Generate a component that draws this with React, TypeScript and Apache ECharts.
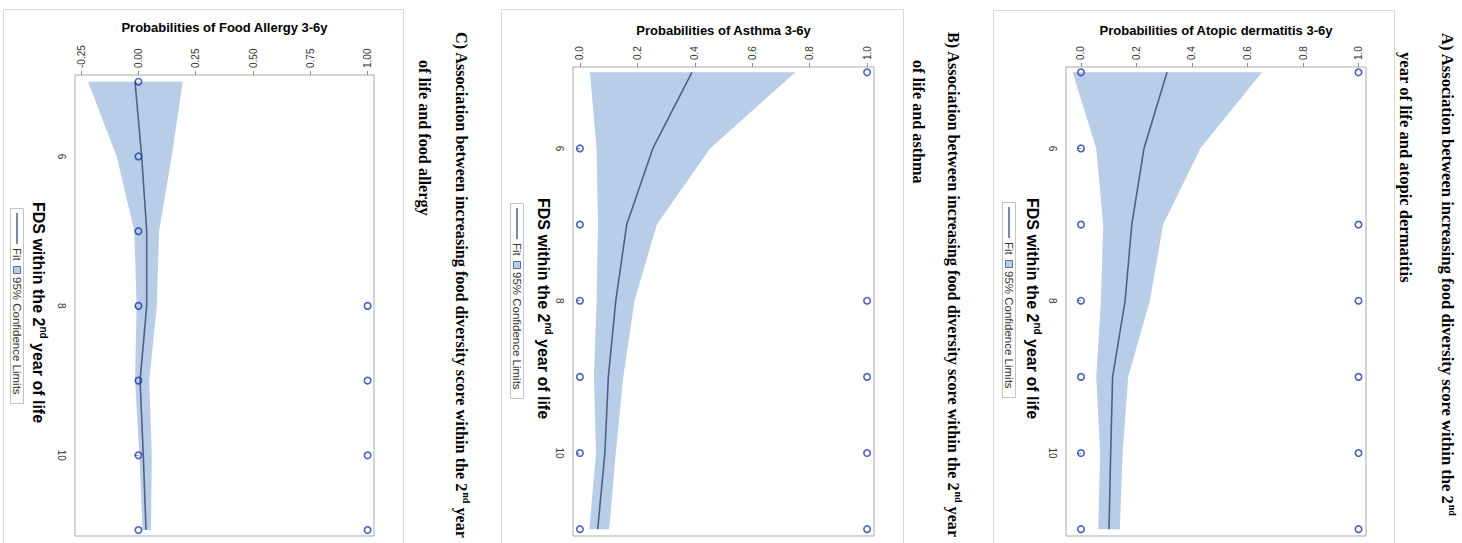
import React, { useEffect, useRef } from "react";
import * as echarts from "echarts";

// ---------- data ----------
const fdsValues = [5, 6, 7, 8, 9, 10, 11];
const fdsTicks = [6, 8, 10];

// A) Atopic dermatitis
const adFit = [0.31, 0.227, 0.183, 0.159, 0.114, 0.107, 0.101];
const adLower = [-0.03, 0.055, 0.08, 0.072, 0.055, 0.069, 0.062];
const adUpper = [0.652, 0.43, 0.296, 0.248, 0.17, 0.15, 0.14];
const adObsZero = [5, 6, 7, 8, 9, 10, 11];
const adObsOne = [5, 7, 8, 9, 10, 11];
const adProbTicks = [0, 0.2, 0.4, 0.6, 0.8, 1.0];

// B) Asthma
const asFit = [0.39, 0.254, 0.163, 0.125, 0.099, 0.087, 0.062];
const asLower = [0.035, 0.058, 0.063, 0.058, 0.049, 0.056, 0.033];
const asUpper = [0.75, 0.453, 0.268, 0.19, 0.151, 0.125, 0.102];
const asObsZero = [6, 7, 8, 9, 10, 11];
const asObsOne = [5, 8, 9, 10, 11];
const asProbTicks = [0, 0.2, 0.4, 0.6, 0.8, 1.0];

// C) Food allergy
const faFit = [-0.015, 0.014, 0.036, 0.036, 0.007, 0.021, 0.033];
const faLower = [-0.22, -0.095, -0.018, -0.008, -0.015, 0.004, 0.018];
const faUpper = [0.193, 0.145, 0.09, 0.08, 0.047, 0.058, 0.055];
const faObsZero = [5, 6, 7, 8, 9, 10, 11];
const faObsOne = [8, 9, 10, 11];
const faProbTicks = [-0.25, 0, 0.25, 0.5, 0.75, 1.0];

const xTitleA = "Probabilities of Atopic dermatitis 3-6y";
const xTitleB = "Probabilities of Asthma 3-6y";
const xTitleC = "Probabilities of Food Allergy 3-6y";
const fdsTitle = "FDS within the 2{sup|nd} year of life";
const legendFit = "Fit";
const legendBand = "95% Confidence Limits";

const titleA = [
  "A) Association between increasing food diversity score within the 2{sup|nd}",
  "year of life and atopic dermatitis",
];
const titleB = [
  "B) Association between increasing food diversity score within the 2{sup|nd} year",
  "of life and asthma",
];
const titleC = [
  "C) Association between increasing food diversity score within the 2{sup|nd} year",
  "of life and food allergy",
];

// ---------- style ----------
const SANS = "'Liberation Sans', Arial, sans-serif";
const SERIF = "'Liberation Serif', 'Times New Roman', serif";
const BAND = "#b8cde7";
const FIT = "#4f6184";
const MARK = "#1f3ba8";
const BOX = "#a9a9a9";
const FRAME = "#dadada";

const panels = [
  {
    grid: { left: 1066, top: 67, width: 300, height: 469 },
    xMin: -0.054, xMax: 1.027, yMin: 4.93, yMax: 11.09,
    probTicks: adProbTicks, decimals: 1, xTitle: xTitleA,
    fit: adFit, lower: adLower, upper: adUpper, zeros: adObsZero, ones: adObsOne,
    xNameGap: 30, yNameGap: 24,
    frame: { x: 993, y: 10, w: 401 },
    legend: { x: 1016, y: 202 },
    title: titleA,
    titleSize: 16.6,
    titlePos: [{ x: 1447, y: 33 }, { x: 1405, y: 52 }],
  },
  {
    grid: { left: 573, top: 67, width: 301, height: 469 },
    xMin: -0.024, xMax: 1.024, yMin: 4.93, yMax: 11.09,
    probTicks: asProbTicks, decimals: 1, xTitle: xTitleB,
    fit: asFit, lower: asLower, upper: asUpper, zeros: asObsZero, ones: asObsOne,
    xNameGap: 30, yNameGap: 20,
    frame: { x: 501, y: 9, w: 402 },
    legend: { x: 524, y: 203 },
    title: titleB,
    titleSize: 16.2,
    titlePos: [{ x: 953, y: 32 }, { x: 918, y: 60 }],
  },
  {
    grid: { left: 75, top: 75, width: 299, height: 461 },
    xMin: -0.277, xMax: 1.028, yMin: 4.91, yMax: 11.08,
    probTicks: faProbTicks, decimals: 2, xTitle: xTitleC,
    fit: faFit, lower: faLower, upper: faUpper, zeros: faObsZero, ones: faObsOne,
    xNameGap: 41, yNameGap: 27,
    frame: { x: 3, y: 9, w: 400 },
    legend: { x: 24, y: 208 },
    title: titleC,
    titleSize: 16.2,
    titlePos: [{ x: 461, y: 32 }, { x: 424, y: 60 }],
  },
];

function buildOption() {
  const grid = panels.map((p) => ({
    left: p.grid.left,
    top: p.grid.top,
    width: p.grid.width,
    height: p.grid.height,
    show: true,
    borderColor: BOX,
    borderWidth: 1,
    backgroundColor: "transparent",
    containLabel: false,
    outerBoundsMode: "none",
  }));

  const xAxis = panels.map((p, i) => ({
    type: "value",
    gridIndex: i,
    position: "top",
    min: p.xMin,
    max: p.xMax,
    axisLine: { show: false },
    splitLine: { show: false },
    axisTick: { show: true, length: 4, customValues: p.probTicks, lineStyle: { color: "#8c8c8c" } },
    axisLabel: {
      show: true,
      customValues: p.probTicks,
      rotate: -90,
      margin: 7,
      fontSize: 10,
      fontFamily: SANS,
      color: "#333",
      formatter: (v: number) => v.toFixed(p.decimals),
    },
    name: p.xTitle,
    nameLocation: "middle",
    nameGap: p.xNameGap,
    nameTextStyle: { fontSize: 13, fontWeight: "bold", fontFamily: SANS, color: "#000" },
  }));

  const yAxis = panels.map((p, i) => ({
    type: "value",
    gridIndex: i,
    inverse: true,
    min: p.yMin,
    max: p.yMax,
    axisLine: { show: false },
    splitLine: { show: false },
    axisTick: { show: true, length: 4, customValues: fdsTicks, lineStyle: { color: "#8c8c8c" } },
    axisLabel: {
      show: true,
      customValues: fdsTicks,
      rotate: -90,
      margin: 9,
      fontSize: 10,
      fontFamily: SANS,
      color: "#333",
    },
    name: fdsTitle,
    nameLocation: "middle",
    nameRotate: -90,
    nameGap: p.yNameGap,
    nameTextStyle: {
      fontSize: 16,
      fontWeight: "bold",
      fontFamily: SANS,
      color: "#000",
      lineHeight: 20,
      padding: [0, 0, 0, 14],
      rich: {
        sup: { fontSize: 10, fontWeight: "bold", fontFamily: SANS, color: "#000", verticalAlign: "top", lineHeight: 10 },
      },
    },
  }));

  const series: any[] = [];
  panels.forEach((p, i) => {
    const bandRows = fdsValues.map((f, k) => [p.lower[k], f, p.upper[k]]);
    series.push({
      type: "custom",
      xAxisIndex: i,
      yAxisIndex: i,
      silent: true,
      z: 1,
      data: bandRows,
      renderItem: (params: any, api: any) => {
        if (params.dataIndex !== 0) return null;
        const pts: number[][] = [];
        for (let k = 0; k < fdsValues.length; k++) pts.push(api.coord([p.upper[k], fdsValues[k]]));
        for (let k = fdsValues.length - 1; k >= 0; k--) pts.push(api.coord([p.lower[k], fdsValues[k]]));
        return { type: "polygon", shape: { points: pts }, style: { fill: BAND, stroke: null } };
      },
    });
    series.push({
      type: "line",
      xAxisIndex: i,
      yAxisIndex: i,
      z: 2,
      silent: true,
      symbol: "none",
      data: fdsValues.map((f, k) => [p.fit[k], f]),
      lineStyle: { color: FIT, width: 1.6 },
    });
    series.push({
      type: "scatter",
      xAxisIndex: i,
      yAxisIndex: i,
      z: 3,
      silent: true,
      symbol: "circle",
      symbolSize: 6.5,
      data: [...p.zeros.map((f) => [0, f]), ...p.ones.map((f) => [1, f])],
      itemStyle: { color: "rgba(255,255,255,0)", borderColor: MARK, borderWidth: 1.6 },
    });
  });

  const graphic: any[] = [];
  panels.forEach((p) => {
    graphic.push({
      type: "rect",
      silent: true,
      z: -1,
      shape: { x: p.frame.x + 0.5, y: p.frame.y + 0.5, width: p.frame.w, height: 600 },
      style: { fill: "none", stroke: FRAME, lineWidth: 1 },
    });
    graphic.push({
      type: "group",
      x: p.legend.x,
      y: p.legend.y,
      rotation: -Math.PI / 2,
      silent: true,
      children: [
        { type: "rect", shape: { x: 0.5, y: 0.5, width: 195, height: 13 }, style: { fill: "#fff", stroke: "#c4c4c4", lineWidth: 1 } },
        { type: "line", shape: { x1: 5, y1: 7, x2: 36, y2: 7 }, style: { stroke: FIT, lineWidth: 1.5 } },
        {
          type: "text", x: 40, y: 7,
          style: { text: legendFit, fontSize: 11.5, fontFamily: SANS, fill: "#333", align: "left", verticalAlign: "middle" },
        },
        { type: "rect", shape: { x: 58.5, y: 3.5, width: 7, height: 7 }, style: { fill: BAND, stroke: "#5b6f90", lineWidth: 1 } },
        {
          type: "text", x: 69, y: 7,
          style: { text: legendBand, fontSize: 11.5, fontFamily: SANS, fill: "#333", align: "left", verticalAlign: "middle" },
        },
      ],
    });
    p.title.forEach((line, j) => {
      graphic.push({
        type: "text",
        x: p.titlePos[j].x,
        y: p.titlePos[j].y,
        rotation: -Math.PI / 2,
        silent: true,
        style: {
          text: line,
          fontFamily: SERIF,
          fontSize: p.titleSize,
          fontWeight: "bold",
          fill: "#000",
          align: "left",
          verticalAlign: "middle",
          lineHeight: 20,
          rich: {
            sup: { fontFamily: SERIF, fontSize: 10, fontWeight: "bold", fill: "#000", verticalAlign: "top", lineHeight: 10 },
          },
        },
      });
    });
  });

  return {
    animation: false,
    backgroundColor: "#fff",
    grid,
    xAxis,
    yAxis,
    series,
    graphic,
  };
}

export default function App() {
  const ref = useRef<HTMLDivElement>(null);
  useEffect(() => {
    document.body.style.margin = "0";
    if (!ref.current) return;
    const chart = echarts.init(ref.current, undefined, { renderer: "svg" });
    chart.setOption(buildOption() as any);
    return () => chart.dispose();
  }, []);
  return (
    <div
      ref={ref}
      style={{ position: "absolute", left: 0, top: 0, width: 1462, height: 543, background: "#fff" }}
    />
  );
}
